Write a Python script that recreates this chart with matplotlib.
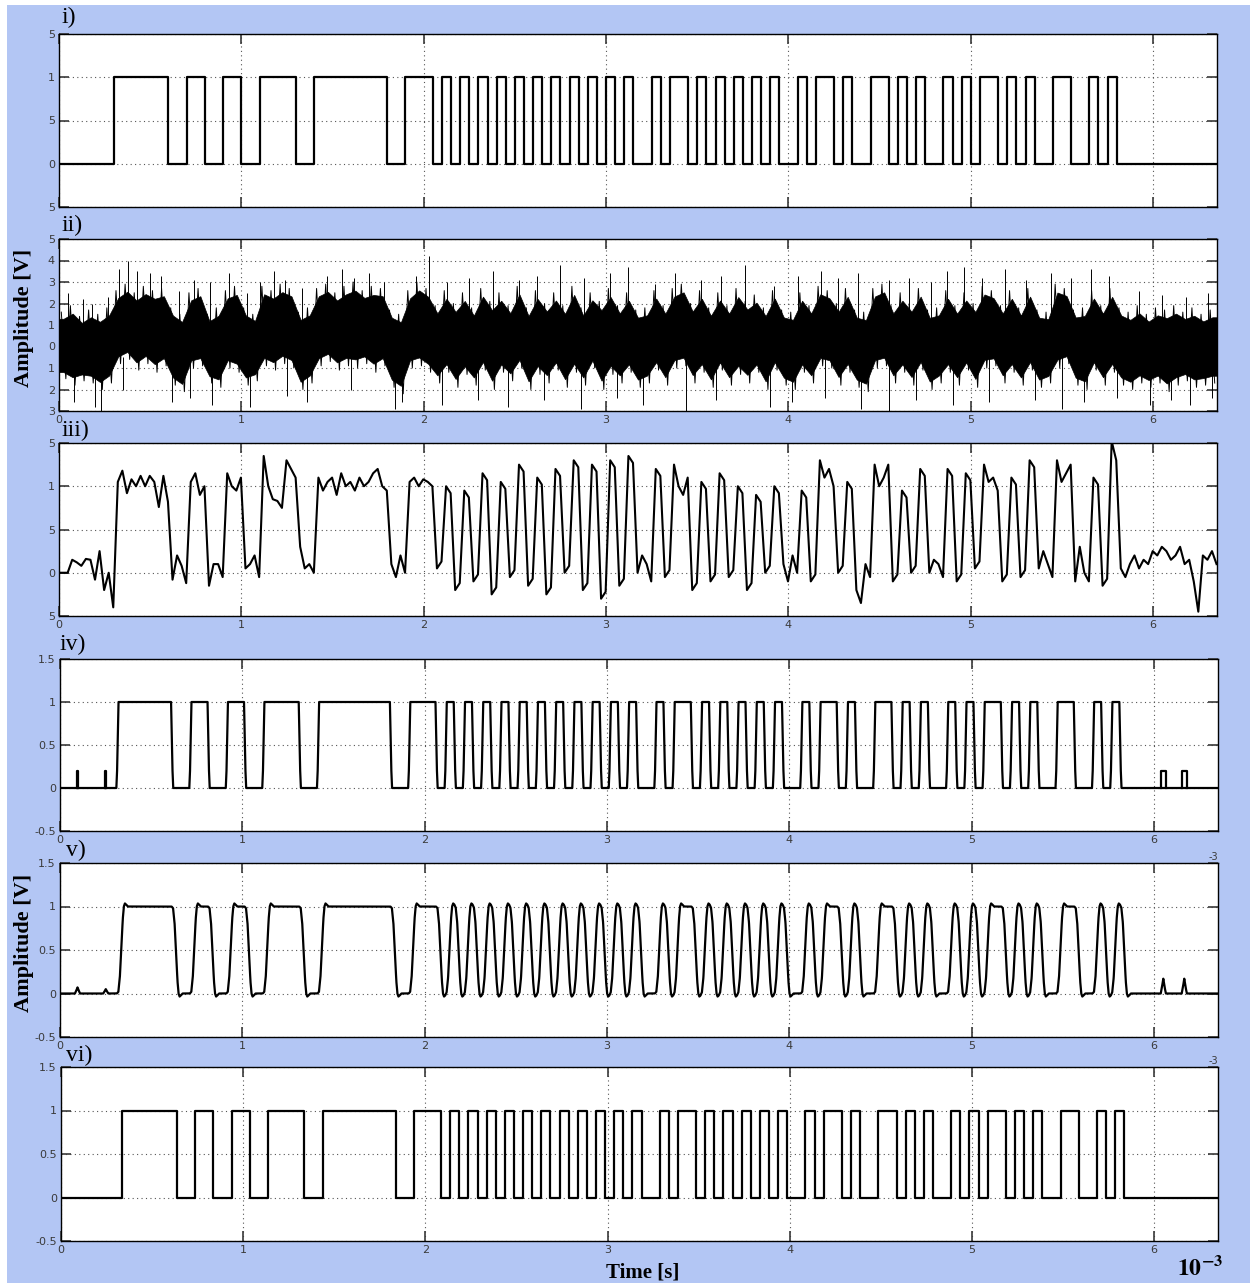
import numpy as np
import matplotlib
matplotlib.use("Agg")
import matplotlib.pyplot as plt
from matplotlib.patches import Rectangle

# ---------------- data ----------------
BIT_MS = 0.05                 # bit period [ms]
N_BITS = 127
T_END_MS = 6.35               # axis end [ms]
# bit indices where the transmitted level toggles (starts low)
tx_edges = [6, 12, 14, 16, 18, 20, 22, 26, 28, 36, 38,
            41, 42, 43, 44, 45, 46, 47, 48, 49, 50, 51, 52, 53, 54, 55, 56,
            57, 58, 59, 60, 61, 62, 63, 65, 66, 67,
            69, 70, 71, 72, 73, 74, 75, 76, 77, 78, 79, 81, 82, 83, 85, 86,
            87, 89, 91, 92, 93, 94, 95, 97, 98, 99, 100, 101, 103, 104, 105,
            106, 107, 109, 111, 113, 114, 115, 116]
delay_iii_ms = 0.010
delay_iv_ms = 0.017
delay_v_ms = 0.036
delay_vi_ms = 0.036

x_ticks_ms = [0, 1, 2, 3, 4, 5, 6]
x_tick_labels = ["0", "1", "2", "3", "4", "5", "6"]
y_ticks_a = [1.5, 1, 0.5, 0, -0.5]
y_labels_a = ["5", "1", "5", "0", "5"]
y_ticks_b = [5, 4, 3, 2, 1, 0, -1, -2, -3]
y_labels_b = ["5", "4", "3", "2", "1", "0", "1", "2", "3"]
y_ticks_c = [1.5, 1, 0.5, 0, -0.5]
y_labels_c = ["1.5", "1", "0.5", "0", "-0.5"]

# glitches seen in panel iv (centre ms, width ms, height)
glitch_t_ms = [0.096, 0.251, 6.05, 6.165]
glitch_w_ms = [0.006, 0.004, 0.025, 0.025]
glitch_h = [0.2, 0.2, 0.2, 0.2]
# matching bumps in panel v
bump_h_v = [0.07, 0.05, 0.17, 0.17]

# panel ii: noisy channel output, upper / lower envelope per bit
noise_upper = [1.6, 1.9, 1.4, 1.7, 1.5, 1.8,
               2.6, 2.9, 2.5, 2.8, 2.6, 2.7,
               1.8, 1.5, 2.5, 2.7, 1.5, 1.8, 2.6, 2.8, 1.8, 1.5,
               2.8, 2.6, 2.9, 2.7, 1.6, 1.8,
               2.7, 2.9, 2.5, 2.8, 3.0, 2.6, 2.8, 2.7,
               1.7, 1.5, 2.6, 3.0, 2.7,
               1.9, 2.6, 2.0, 2.5, 1.8, 2.7, 2.1, 2.5, 1.9, 2.8, 1.8, 2.6,
               2.0, 2.5, 1.9, 2.8, 1.8, 2.5, 2.1, 2.7, 1.9, 2.5,
               1.7, 1.8, 2.6, 1.9, 2.7, 2.9,
               2.0, 2.6, 1.8, 2.5, 1.9, 2.7, 2.1, 2.4, 1.8, 2.6,
               1.7, 1.6, 2.5, 1.9, 2.8, 2.6, 2.0, 2.7, 1.7, 1.6, 2.7, 2.9,
               1.9, 2.5, 2.0, 2.7, 1.7, 1.8, 2.6, 1.9, 2.5, 2.0, 2.8, 2.6,
               1.9, 2.6, 1.8, 2.7, 1.7, 1.6, 2.9, 2.7, 1.7, 1.8,
               2.6, 1.9, 2.7,
               1.8, 1.6, 1.9, 1.5, 1.8, 1.7, 1.9, 1.6, 1.8, 1.5, 1.7]
noise_lower = [-1.5, -1.8, -1.6, -1.7, -2.0, -1.7,
               -0.8, -0.6, -1.1, -0.8, -1.2, -0.9,
               -1.8, -2.1, -1.0, -0.9, -1.7, -1.9, -1.0, -1.2, -1.8, -1.6,
               -0.9, -1.1, -0.8, -1.0, -2.0, -1.7,
               -0.9, -0.7, -1.1, -0.9, -1.0, -0.8, -1.2, -0.9,
               -1.9, -2.2, -1.0, -0.9, -1.2,
               -1.7, -1.2, -1.9, -1.3, -1.8, -1.1, -2.0, -1.2, -1.6, -1.0, -2.0,
               -1.3, -1.7, -1.1, -1.9, -1.2, -1.8, -1.0, -2.0, -1.3, -1.7, -1.2,
               -1.9, -1.7, -1.1, -1.8, -1.0, -0.9,
               -1.7, -1.2, -1.9, -1.1, -1.8, -1.3, -1.7, -1.2, -2.0, -1.1,
               -1.8, -2.0, -1.2, -1.7, -0.9, -1.0, -1.8, -1.2, -1.9, -2.1, -1.0, -0.9,
               -1.7, -1.2, -1.8, -1.1, -2.0, -1.7, -1.2, -1.8, -1.1, -1.9, -1.0, -0.9,
               -1.7, -1.2, -1.8, -1.1, -1.9, -1.7, -1.0, -0.8, -1.8, -2.0,
               -1.1, -1.8, -1.2,
               -1.8, -2.0, -1.7, -1.9, -1.7, -2.1, -1.8, -1.6, -1.9, -1.8, -1.7]
# large individual excursions in panel ii (time ms, value V)
spike_up_t_ms = [0.05, 0.13, 0.18, 0.27, 0.33, 0.38, 0.43, 0.50, 0.56, 0.66,
                 0.74, 0.83, 0.93, 1.03, 1.10, 1.18, 1.24, 1.33, 1.47, 1.55,
                 1.62, 1.70, 1.78, 1.96, 2.03, 2.13, 2.25, 2.38, 2.52, 2.62,
                 2.75, 2.88, 3.02, 3.12, 3.27, 3.38, 3.52, 3.63, 3.76, 3.92,
                 4.05, 4.18, 4.27, 4.38, 4.55, 4.66, 4.78, 4.87, 4.96, 5.06,
                 5.19, 5.30, 5.44, 5.55, 5.66, 5.76, 5.92, 6.05, 6.18, 6.30]
spike_up_v = [2.5, 2.2, 2.0, 2.3, 3.6, 4.0, 3.5, 3.4, 3.3, 2.6,
              3.1, 3.0, 3.4, 2.5, 3.0, 3.5, 3.1, 2.7, 3.3, 3.6,
              3.2, 3.4, 3.0, 3.3, 4.2, 3.0, 3.2, 3.5, 3.1, 3.3,
              3.8, 3.2, 3.4, 3.7, 2.9, 3.4, 3.1, 3.3, 3.8, 2.8,
              3.3, 3.5, 3.2, 3.4, 3.1, 3.2, 3.0, 3.5, 3.7, 3.2,
              3.6, 3.1, 3.4, 3.2, 3.6, 3.3, 2.6, 2.4, 2.3, 2.5]
spike_dn_t_ms = [0.08, 0.20, 0.23, 0.35, 0.62, 0.72, 0.84, 1.05, 1.25, 1.36,
                 1.60, 1.84, 1.88, 2.10, 2.30, 2.46, 2.66, 2.86, 3.06, 3.20,
                 3.44, 3.60, 3.90, 4.02, 4.20, 4.40, 4.55, 4.70, 4.90, 5.10,
                 5.35, 5.50, 5.62, 5.80, 5.98, 6.10, 6.20, 6.32]
spike_dn_v = [-2.6, -2.8, -3.0, -2.0, -2.6, -2.4, -2.7, -2.8, -2.3, -2.6,
              -2.0, -2.9, -2.6, -2.7, -2.5, -2.8, -2.5, -2.9, -2.4, -2.7,
              -3.0, -2.5, -2.8, -2.6, -2.4, -2.9, -3.0, -2.5, -2.7, -2.6,
              -2.5, -2.9, -2.6, -2.4, -2.7, -2.5, -2.7, -2.4]

# panel iii: filtered signal, two readings per bit (early / late in the bit)
filt_a = [0.00, 0.15, 0.08, 0.15, 0.25, 0.00, 1.05, 0.92, 1.00, 1.00,
          1.05, 1.12, -0.08, 0.08, 1.05, 0.90, -0.15, 0.10, 1.15, 0.95,
          0.05, 0.20, 1.35, 0.85, 0.75, 1.20, 0.30, 0.10, 1.10, 1.05,
          0.90, 1.00, 0.95, 1.00, 1.15, 1.00, 0.10, 0.20, 1.05, 1.00,
          1.05, 0.05, 1.00, -0.20, 0.95, -0.10, 1.15, -0.25, 1.05, -0.05,
          1.25, -0.15, 1.10, -0.25, 1.20, 0.00, 1.30, -0.20, 1.25, -0.30,
          1.30, -0.15, 1.35, 0.00, 0.10, 1.20, -0.05, 1.25, 0.90, -0.20,
          1.05, -0.10, 1.15, -0.05, 1.00, -0.20, 0.90, 0.00, 1.00, 0.10,
          0.20, 0.95, -0.10, 1.30, 1.20, 0.00, 1.05, -0.20, 0.10, 1.25,
          1.10, -0.10, 0.95, 0.00, 1.20, 0.00, 0.10, 1.20, -0.10, 1.15,
          0.05, 1.25, 1.10, -0.10, 1.10, -0.05, 1.30, 0.05, 0.10, 1.30,
          1.15, -0.10, 0.00, 1.10, -0.15, 1.52, 0.05, 0.10, 0.05, 0.10,
          0.20, 0.25, 0.20, 0.10, -0.10, 0.20, 0.25]
filt_b = [0.00, 0.12, 0.16, -0.08, -0.20, -0.40, 1.18, 1.08, 1.12, 1.12,
          0.76, 0.82, 0.20, -0.12, 1.15, 1.00, 0.10, -0.05, 1.00, 1.10,
          0.10, -0.05, 1.00, 0.83, 1.30, 1.10, 0.05, 0.00, 0.95, 1.10,
          1.15, 1.05, 1.10, 1.05, 1.20, 0.95, -0.05, 0.00, 1.10, 1.08,
          1.00, 0.13, 0.92, -0.12, 0.87, -0.02, 1.07, -0.17, 0.97, 0.03,
          1.17, -0.07, 1.02, -0.17, 1.12, 0.08, 1.22, -0.12, 1.17, -0.22,
          1.22, -0.07, 1.27, 0.20, -0.10, 1.12, 0.03, 1.00, 1.10, -0.12,
          0.97, -0.02, 1.07, 0.03, 0.92, -0.12, 0.82, 0.08, 0.92, -0.10,
          0.00, 0.87, -0.02, 1.10, 1.00, 0.08, 0.97, -0.35, -0.05, 1.00,
          1.25, -0.02, 0.87, 0.08, 1.12, 0.15, -0.05, 1.12, -0.02, 1.07,
          0.13, 1.05, 0.95, -0.02, 1.02, 0.03, 1.22, 0.25, -0.05, 1.05,
          1.25, 0.30, -0.10, 1.02, -0.07, 1.30, -0.05, 0.20, 0.15, 0.25,
          0.30, 0.15, 0.30, 0.15, -0.45, 0.15, 0.10]

# ---------------- helpers ----------------
S = 1e-3  # ms -> s
bits = []
level = 0
for k in range(N_BITS):
    if k in tx_edges:
        level = 1 - level
    bits.append(level)


def square_wave(b, delay_ms):
    t = [0.0]
    y = [b[0]]
    for k in range(1, len(b)):
        if b[k] != b[k - 1]:
            tk = k * BIT_MS + delay_ms
            t += [tk, tk]
            y += [b[k - 1], b[k]]
    t.append(T_END_MS)
    y.append(b[-1])
    return np.array(t) * S, np.array(y, float)


def ramp_wave(b, delay_ms):
    offs = [-0.008, -0.004, 0.0, 0.004]
    rise = [0.0, 0.2, 0.6, 1.0]
    t = [0.0]
    y = [b[0]]
    for k in range(1, len(b)):
        if b[k] != b[k - 1]:
            tk = k * BIT_MS + delay_ms
            vals = rise if b[k] > b[k - 1] else rise[::-1]
            for o, v in zip(offs, vals):
                t.append(tk + o)
                y.append(v)
    t.append(T_END_MS)
    y.append(b[-1])
    return np.array(t), np.array(y)


def interleave(a, b):
    out = np.empty(2 * len(a))
    out[0::2] = a
    out[1::2] = b
    return out


# step response shape for the smoothed trace
shape_u = np.array([-0.024, -0.016, -0.008, 0.0, 0.008, 0.014, 0.020, 0.028, 0.036])
shape_s = np.array([0.0, 0.02, 0.18, 0.5, 0.85, 1.0, 1.035, 1.02, 1.0])

fig = plt.figure(figsize=(12.5, 12.85), dpi=100)
fig.patch.set_facecolor("white")
fig.add_artist(Rectangle((7 / 1250, 0.0015), 1 - 7 / 1250, 1 - 5 / 1285 - 0.0015,
                         transform=fig.transFigure, facecolor="#b3c6f4",
                         edgecolor="none", zorder=-10))

W, H = 1250.0, 1285.0


def make_ax(l, t, r, b):
    ax = fig.add_axes([l / W, 1 - b / H, (r - l) / W, (b - t) / H])
    ax.set_facecolor("white")
    for sp in ax.spines.values():
        sp.set_linewidth(1.0)
        sp.set_color("black")
    ax.tick_params(direction="in", length=7, width=1.2, top=True, right=True,
                   labelsize=8, labelcolor="#3a3a3a", colors="#3a3a3a", pad=3)
    ax.grid(True, linestyle=(0, (1, 3)), color="#555555", linewidth=0.8)
    ax.set_axisbelow(True)
    ax.set_xlim(0, T_END_MS * S)
    ax.set_xticks([v * S for v in x_ticks_ms])
    return ax


boxes = [(59, 34, 1217, 207), (59, 239, 1217, 411), (59, 443, 1217, 616),
         (60, 659, 1218, 831), (60, 863, 1218, 1037), (61, 1067, 1218, 1241)]
axs = [make_ax(*bx) for bx in boxes]

# panel i
ax = axs[0]
t, y = square_wave(bits, 0.0)
ax.plot(t, y, color="black", lw=1.6)
ax.set_ylim(-0.5, 1.5)
ax.set_yticks(y_ticks_a)
ax.set_yticklabels(y_labels_a)
ax.set_xticklabels([])

# panel ii
ax = axs[1]
up = np.array(noise_upper)
lo = np.array(noise_lower)
mid = (up + lo) / 2
half = (up - lo) / 2
CORE = 0.8
tc = (np.arange(N_BITS) + 0.5) * BIT_MS
tcore = np.concatenate([[0.0], tc, [T_END_MS]])
core_up = np.concatenate([[mid[0] + CORE * half[0]], mid + CORE * half, [mid[-1] + CORE * half[-1]]])
core_lo = np.concatenate([[mid[0] - CORE * half[0]], mid - CORE * half, [mid[-1] - CORE * half[-1]]])
ax.fill_between(tcore * S, core_lo, core_up, color="black", lw=0.5)
tz = interleave(np.arange(N_BITS) * BIT_MS + 0.0125, np.arange(N_BITS) * BIT_MS + 0.0375)
vz = interleave(up, lo)
ax.plot(tz * S, vz, color="black", lw=0.7)
ax.vlines(np.array(spike_up_t_ms) * S, 1.0, spike_up_v, color="black", lw=0.7)
ax.vlines(np.array(spike_dn_t_ms) * S, spike_dn_v, -0.5, color="black", lw=0.7)
ax.set_ylim(-3, 5)
ax.set_yticks(y_ticks_b)
ax.set_yticklabels(y_labels_b)
ax.set_xticklabels(x_tick_labels)

# panel iii
ax = axs[2]
ta = np.arange(N_BITS) * BIT_MS + delay_iii_ms + 0.0125
t3 = np.concatenate([[0.0], interleave(ta, ta + 0.025)])
v3 = np.concatenate([[filt_a[0]], interleave(filt_a, filt_b)])
ax.plot(t3 * S, v3, color="black", lw=1.5)
ax.set_ylim(-0.5, 1.5)
ax.set_yticks(y_ticks_a)
ax.set_yticklabels(y_labels_a)
ax.set_xticklabels(x_tick_labels)

# panel iv
ax = axs[3]
t, y = ramp_wave(bits, delay_iv_ms)
ax.plot(t * S, y, color="black", lw=1.6)
for c, w, h in zip(glitch_t_ms, glitch_w_ms, glitch_h):
    ax.plot(np.array([c - w / 2, c - w / 2, c + w / 2, c + w / 2]) * S,
            [0, h, h, 0], color="black", lw=1.6)
ax.set_ylim(-0.5, 1.5)
ax.set_yticks(y_ticks_c)
ax.set_yticklabels(y_labels_c)
ax.set_xticklabels(x_tick_labels)

# panel v
ax = axs[4]
tt = np.arange(0, T_END_MS, 0.0005)
yy = np.zeros_like(tt)
for k in range(1, len(bits)):
    d = bits[k] - bits[k - 1]
    if d:
        tk = k * BIT_MS + delay_v_ms
        yy += d * np.interp(tt - tk, shape_u, shape_s, left=0.0, right=1.0)
bump_u = np.array([-0.014, -0.007, 0.0, 0.007, 0.014])
bump_s = np.array([0.0, 0.45, 1.0, 0.45, 0.0])
for c, h in zip(glitch_t_ms, bump_h_v):
    yy += h * np.interp(tt - c, bump_u, bump_s, left=0.0, right=0.0)
ax.plot(tt * S, yy, color="black", lw=1.6)
ax.set_ylim(-0.5, 1.5)
ax.set_yticks(y_ticks_c)
ax.set_yticklabels(y_labels_c)
ax.set_xticklabels(x_tick_labels)

# panel vi
ax = axs[5]
t, y = square_wave(bits, delay_vi_ms)
ax.plot(t, y, color="black", lw=1.6)
ax.set_ylim(-0.5, 1.5)
ax.set_yticks(y_ticks_c)
ax.set_yticklabels(y_labels_c)
ax.set_xticklabels(x_tick_labels)

serif = ["Liberation Serif", "DejaVu Serif"]
plt.rcParams["mathtext.fontset"] = "stix"


def ftxt(x, y, s, **kw):
    fig.text(x / W, 1 - y / H, s, **kw)


for lab, x, y in [("i)", 62, 17), ("ii)", 62, 225), ("iii)", 62, 430),
                  ("iv)", 60, 644), ("v)", 66, 850), ("vi)", 66, 1055)]:
    ftxt(x, y, lab, family=serif, fontsize=17, va="center", ha="left")

ftxt(24, 318, "Amplitude [V]", family=serif, fontsize=16, fontweight="bold",
     rotation=90, va="center", ha="center")
ftxt(24, 943, "Amplitude [V]", family=serif, fontsize=16, fontweight="bold",
     rotation=90, va="center", ha="center")
ftxt(643, 1272, "Time [s]", family=serif, fontsize=15, fontweight="bold",
     va="center", ha="center")
ftxt(1200, 1268, r"$\mathbf{10^{-3}}$", fontsize=17, va="center", ha="center")
ftxt(1213, 857, "-3", fontsize=7, color="#3a3a3a", va="center", ha="center")
ftxt(1213, 1061, "-3", fontsize=7, color="#3a3a3a", va="center", ha="center")

fig.savefig("out.png", dpi=100, facecolor=fig.get_facecolor())
